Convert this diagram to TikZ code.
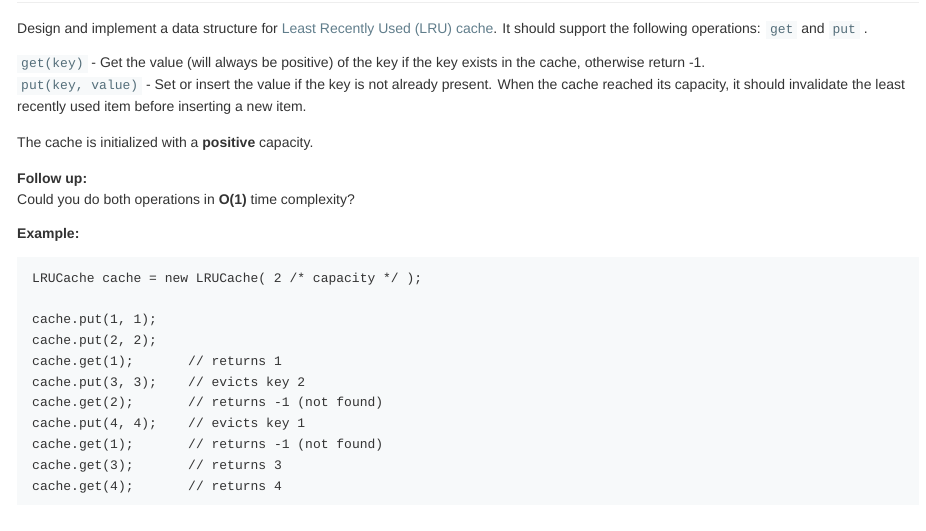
\documentclass[tikz,border=0pt]{standalone}
\usepackage{fontspec}
\setmainfont{Liberation Sans}
\newfontfamily\codefont{Liberation Mono}
\definecolor{ink}{HTML}{333333}
\definecolor{linkc}{HTML}{607D8B}
\definecolor{codeink}{HTML}{546E7A}
\definecolor{codebg}{HTML}{F7F9FA}
\definecolor{rulec}{HTML}{EEEEEE}
\newcommand{\bodyfont}{\fontsize{14pt}{22pt}\selectfont}
\newcommand{\blockfont}{\codefont\fontsize{13pt}{21pt}\selectfont}
\newcommand{\inl}[1]{{\setlength{\fboxsep}{2pt}\colorbox{codebg}{\kern2pt\color{codeink}\codefont\fontsize{13pt}{14pt}\selectfont\strut #1\kern2pt}}}
\tikzset{
  txt/.style={anchor=base west,inner sep=0pt,font=\bodyfont,text=ink},
  codeline/.style={anchor=base west,inner sep=0pt,font=\blockfont,text=ink}
}

\begin{document}
\begin{tikzpicture}[x=1pt,y=-1pt]
	\useasboundingbox (0,0) rectangle (926,530);
	\draw [rulec,line width=1pt] (17,2.5)-- (919,2.5);
	\fill [codebg] (17,257) rectangle (919,505);
	% text lines
	\node[txt] (intro) at (17,33) {Design and implement a data structure for \textcolor{linkc}{Least Recently Used (LRU) cache}. It should support the following operations: \inl{get} and \inl{put} .};
	\node[txt] (getop) at (17,67) {\inl{get(key)} - Get the value (will always be positive) of the key if the key exists in the cache, otherwise return -1.};
	\node[txt] (putop) at (17,89) {\inl{put(key, value)} - Set or insert the value if the key is not already present. When the cache reached its capacity, it should invalidate the least};
	\node[txt] (putcont) at (17,111) {recently used item before inserting a new item.};
	\node[txt] (init) at (17,147) {The cache is initialized with a \textbf{positive} capacity.};
	\node[txt] (follow) at (17,183) {\textbf{Follow up:}};
	\node[txt] (question) at (17,204) {Could you do both operations in \textbf{O(1)} time complexity?};
	\node[txt] (example) at (17,238) {\textbf{Example:}};
	% code block
	\node[codeline] (c0) at (32,282) {LRUCache cache = new LRUCache( 2 /* capacity */ );};
	\foreach \n/\y/\stmt/\note in {1/323/{cache.put(1, 1);}/{},
		2/344/{cache.put(2, 2);}/{},
		3/365/{cache.get(1);}/{// returns 1},
		4/386/{cache.put(3, 3);}/{// evicts key 2},
		5/406/{cache.get(2);}/{// returns -1 (not found)},
		6/427/{cache.put(4, 4);}/{// evicts key 1},
		7/448/{cache.get(1);}/{// returns -1 (not found)},
		8/469/{cache.get(3);}/{// returns 3},
		9/490/{cache.get(4);}/{// returns 4}}{
		\node[codeline] (c\n) at (32,\y) {\stmt};
		\node[codeline] (n\n) at (188,\y) {\note};
	}
\end{tikzpicture}
\end{document}
